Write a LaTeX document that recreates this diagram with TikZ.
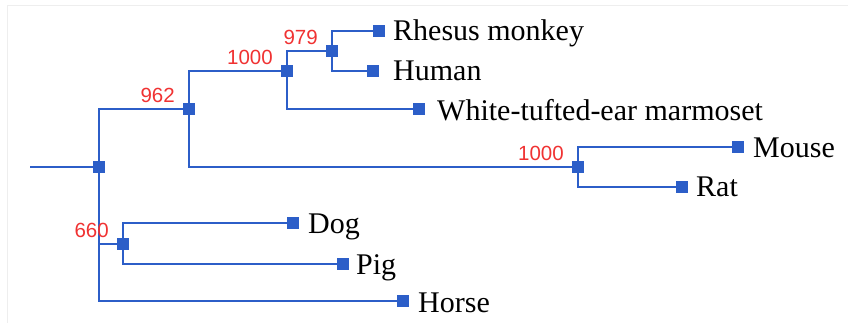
\documentclass[tikz,border=0pt]{standalone}
\usepackage{fontspec}
\usetikzlibrary{calc}
\setmainfont{Liberation Serif}
\newfontfamily\labfont{Liberation Sans}
\definecolor{brblue}{RGB}{44,94,200}
\definecolor{bsred}{RGB}{240,50,50}
\definecolor{framegray}{RGB}{238,238,238}
\tikzset{
  sq/.style={rectangle, fill=brblue, inner sep=0pt, minimum size=11.5pt},
  br/.style={draw=brblue, line width=2.2pt},
  txt/.style={anchor=base west, inner sep=0pt, font=\fontsize{30}{36}\selectfont, text=black},
  bs/.style={anchor=south east, inner sep=0pt, font=\labfont\fontsize{20.5}{24}\selectfont, text=bsred}
}
\begin{document}
\begin{tikzpicture}[x=1pt,y=-1pt]
\useasboundingbox (0,0) rectangle (848,322);
\draw[framegray, line width=1pt] (7,330) -- (7,5) -- (860,5);
% internal nodes
\node[sq] (root) at (99,167) {};
\node[sq] (n962) at (189,109) {};
\node[sq] (n1000a) at (287,71) {};
\node[sq] (n979) at (332,51) {};
\node[sq] (n1000b) at (578,167) {};
\node[sq] (n660) at (123,244) {};
% leaves
\node[sq] (rhesus) at (379,31) {};
\node[sq] (human) at (373,71) {};
\node[sq] (marm) at (419,109) {};
\node[sq] (mouse) at (738,147) {};
\node[sq] (rat) at (682,187) {};
\node[sq] (dog) at (293,223) {};
\node[sq] (pig) at (343,264) {};
\node[sq] (horse) at (403,301) {};
\coordinate (start) at (30,167);
% branches
\draw[br] (start) -- (root);
\draw[br] (root) |- (n962);
\draw[br] (root) |- (n660);
\draw[br] (root) |- (horse);
\draw[br] (n962) |- (n1000a);
\draw[br] (n962) |- (n1000b);
\draw[br] (n1000a) |- (n979);
\draw[br] (n1000a) |- (marm);
\draw[br] (n979) |- (rhesus);
\draw[br] (n979) |- (human);
\draw[br] (n1000b) |- (mouse);
\draw[br] (n1000b) |- (rat);
\draw[br] (n660) |- (dog);
\draw[br] (n660) |- (pig);
% bootstrap labels
\node[bs] (b962) at ($(n962)+(-14,-6)$) {962};
\node[bs] (b1000a) at ($(n1000a)+(-14,-6)$) {1000};
\node[bs] (b979) at ($(n979)+(-14,-6)$) {979};
\node[bs] (b1000b) at ($(n1000b)+(-14,-6)$) {1000};
\node[bs] (b660) at ($(n660)+(-14,-6)$) {660};
% taxa names
\node[txt] (trhesus) at (393,40) {Rhesus monkey};
\node[txt] (thuman) at (393,80) {Human};
\node[txt] (tmarm) at (437,120) {White-tufted-ear marmoset};
\node[txt] (tmouse) at (753,157) {Mouse};
\node[txt] (trat) at (696,196) {Rat};
\node[txt] (tdog) at (308,233) {Dog};
\node[txt] (tpig) at (356,274) {Pig};
\node[txt] (thorse) at (418,312) {Horse};
\end{tikzpicture}
\end{document}
